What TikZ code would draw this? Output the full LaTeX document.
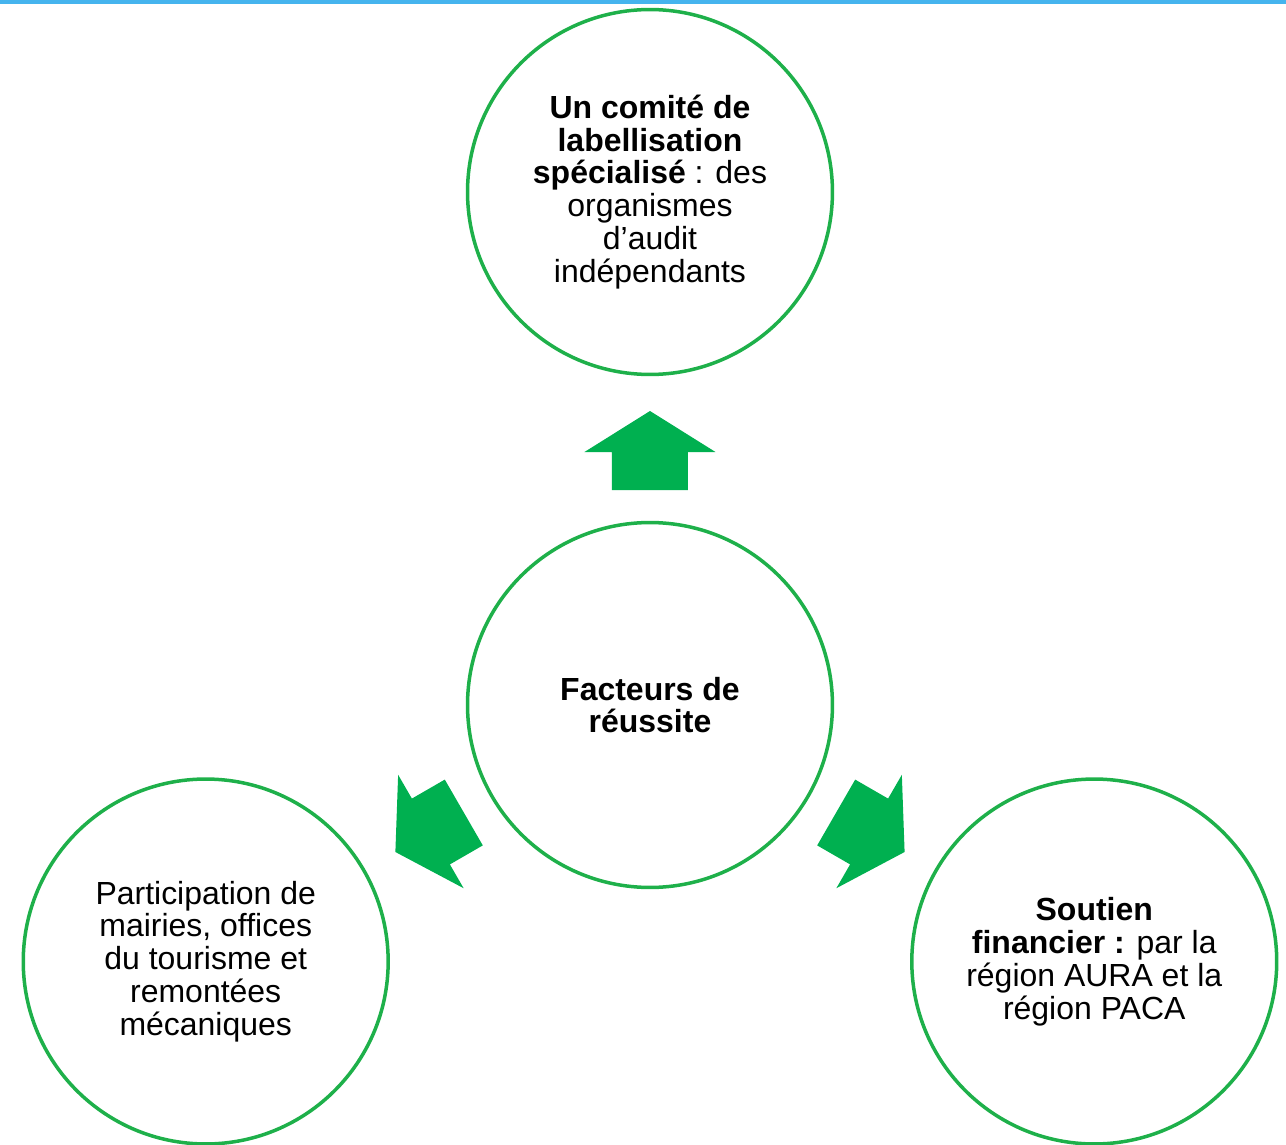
\documentclass[tikz,border=0pt]{standalone}
\usepackage{fontspec}
\setmainfont{Liberation Sans}
\definecolor{vert}{HTML}{00B050}
\definecolor{cercle}{HTML}{1EB04A}
\definecolor{bleu}{HTML}{45B4EE}
\newcommand\grossefleche[1]{%
  \fill[fleche,rotate=#1] (-38,215) -- (-38,253) -- (-65.5,253) -- (0,294)
    -- (65.5,253) -- (38,253) -- (38,215) -- cycle;}
\begin{document}
\begin{tikzpicture}[x=0.02cm,y=0.02cm,
  bulle/.style={circle,draw=cercle,line width=0.07cm,minimum size=7.3cm,
    inner sep=0pt,align=center,font=\fontsize{18.2}{18.7}\selectfont},
  fleche/.style={fill=vert}]
  \useasboundingbox (-650,-439) rectangle (636,705);
  \fill[bleu] (-650,701) rectangle (636,705);
  \node[bulle] (centre) at (0,0) {\textbf{Facteurs de}\\\textbf{réussite}};
  \node[bulle] (comite) at (90:513) {\textbf{Un comité de}\\\textbf{labellisation}\\
    \textbf{spécialisé} : des\\organismes\\d’audit\\indépendants};
  \node[bulle] (mairies) at (210:513) {Participation de\\mairies, offices\\
    du tourisme et\\remontées\\mécaniques};
  \node[bulle] (soutien) at (330:513) {\textbf{Soutien}\\\textbf{financier :} par la\\
    région AURA et la\\région PACA};
  \grossefleche{0}
  \grossefleche{120}
  \grossefleche{-120}
\end{tikzpicture}
\end{document}
